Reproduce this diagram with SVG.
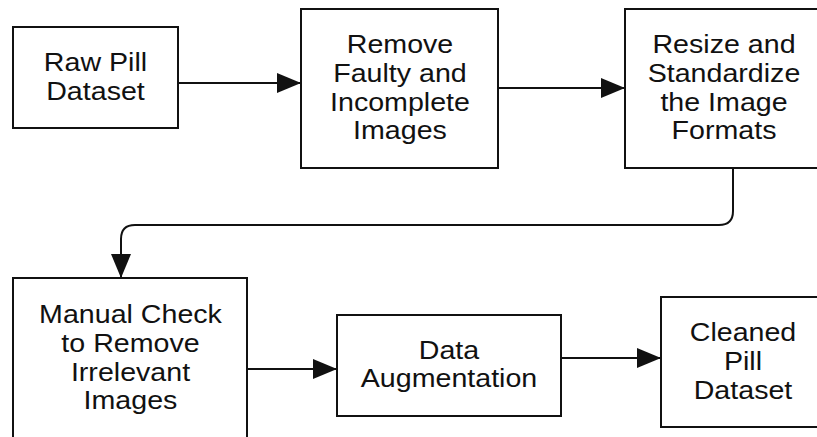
<svg xmlns="http://www.w3.org/2000/svg" width="817" height="437" viewBox="0 0 817 437">
<style>
.box{fill:#fff;stroke:#111;stroke-width:2}
.lbl{font-family:"Liberation Sans",Arial,sans-serif;font-size:26px;fill:#111;text-anchor:middle}
.conn{fill:none;stroke:#111;stroke-width:2}
</style>
<defs>
<marker id="arr" markerUnits="userSpaceOnUse" markerWidth="24" markerHeight="20" refX="24" refY="10" orient="auto">
<path d="M0,0 L24,10 L0,20 z" fill="#111"/>
</marker>
</defs>
<rect width="817" height="437" fill="#fff"/>
<g id="connectors">
<path class="conn" d="M178,83 H301" marker-end="url(#arr)"/>
<path class="conn" d="M498,88 H625" marker-end="url(#arr)"/>
<path class="conn" d="M733,168 V211 Q733,225 719,225 H135 Q121,225 121,239 V278" marker-end="url(#arr)"/>
<path class="conn" d="M247,369 H337" marker-end="url(#arr)"/>
<path class="conn" d="M561,358 H661" marker-end="url(#arr)"/>
</g>
<g id="raw">
<rect class="box" x="13" y="27" width="165" height="101"/>
<text class="lbl" transform="translate(95.5,0) scale(1.1,1)"><tspan x="0" y="71">Raw Pill</tspan><tspan x="0" y="100">Dataset</tspan></text>
</g>
<g id="remove">
<rect class="box" x="301" y="9" width="197" height="159"/>
<text class="lbl" transform="translate(400,0) scale(1.1,1)"><tspan x="0" y="53">Remove</tspan><tspan x="0" y="82">Faulty and</tspan><tspan x="0" y="111">Incomplete</tspan><tspan x="0" y="139">Images</tspan></text>
</g>
<g id="resize">
<rect class="box" x="625" y="9" width="198" height="159"/>
<text class="lbl" transform="translate(724,0) scale(1.1,1)"><tspan x="0" y="53">Resize and</tspan><tspan x="0" y="82">Standardize</tspan><tspan x="0" y="111">the Image</tspan><tspan x="0" y="139">Formats</tspan></text>
</g>
<g id="manual">
<rect class="box" x="13" y="278" width="234" height="180"/>
<text class="lbl" transform="translate(130.5,0) scale(1.1,1)"><tspan x="0" y="323">Manual Check</tspan><tspan x="0" y="352">to Remove</tspan><tspan x="0" y="381">Irrelevant</tspan><tspan x="0" y="409">Images</tspan></text>
</g>
<g id="augment">
<rect class="box" x="337" y="315" width="224" height="101"/>
<text class="lbl" transform="translate(449,0) scale(1.1,1)"><tspan x="0" y="359">Data</tspan><tspan x="0" y="387">Augmentation</tspan></text>
</g>
<g id="cleaned">
<rect class="box" x="661" y="297" width="164" height="130"/>
<text class="lbl" transform="translate(743,0) scale(1.1,1)"><tspan x="0" y="341">Cleaned</tspan><tspan x="0" y="370">Pill</tspan><tspan x="0" y="399">Dataset</tspan></text>
</g>
</svg>
